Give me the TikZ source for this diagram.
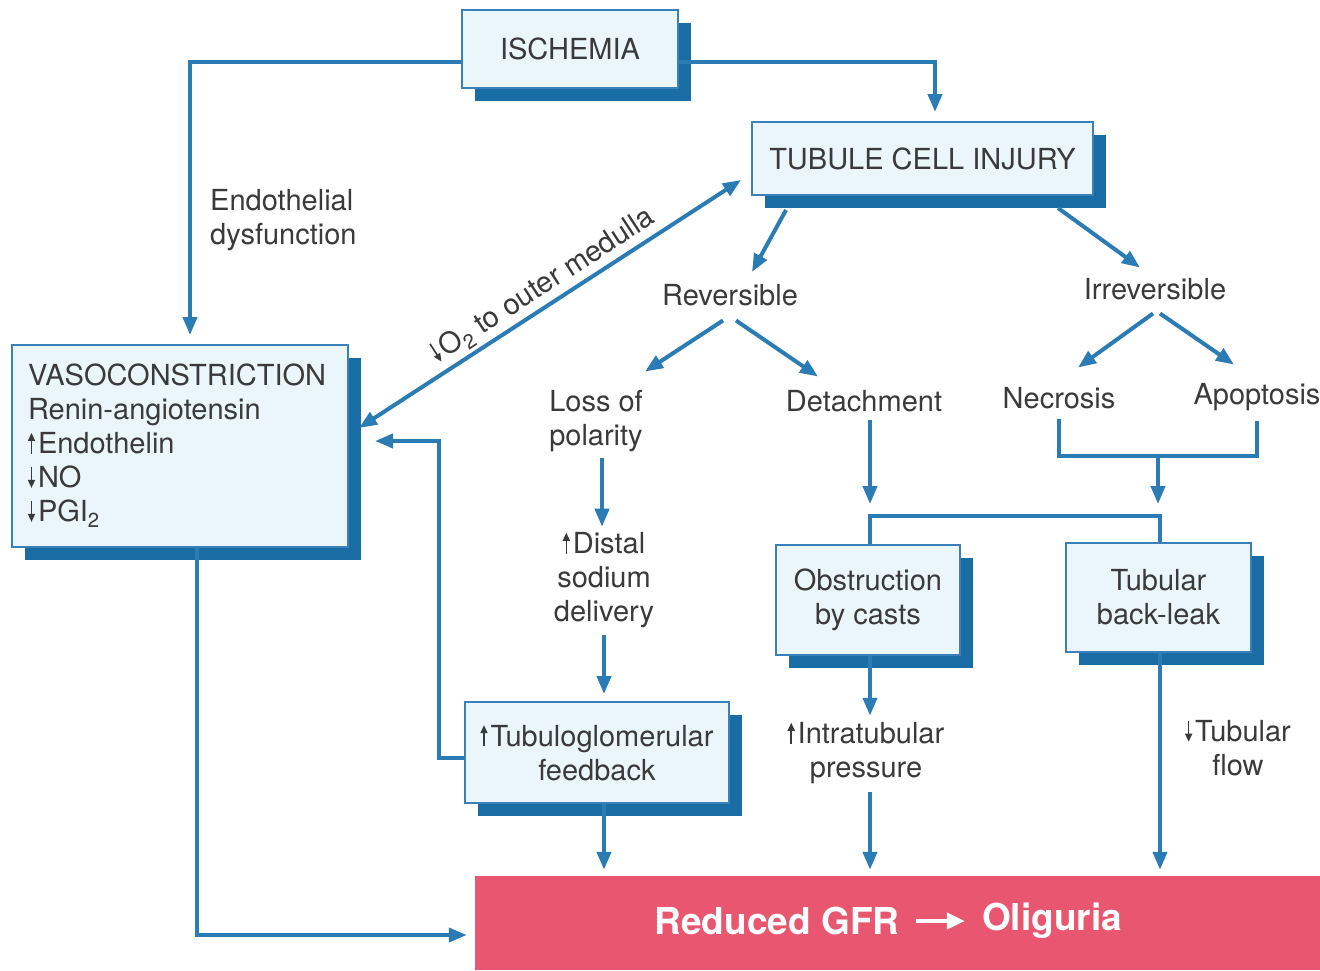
\documentclass[tikz,border=0pt]{standalone}
\usepackage{fontspec}
\setmainfont{TeX Gyre Heros}
\usetikzlibrary{arrows.meta,shadows}
\definecolor{linec}{HTML}{2B7BB5}
\definecolor{shadc}{HTML}{1A6CA5}
\definecolor{bordc}{HTML}{3A80BA}
\definecolor{boxf}{HTML}{EAF6FA}
\definecolor{txtc}{HTML}{3A3A3A}
\definecolor{redc}{HTML}{E8566F}
\newcommand\upa{\tikz[x=1pt,y=1pt,baseline=0pt]\draw[line width=1.6pt,-{Triangle[length=8pt,width=7pt]}] (0,0)--(0,21);\hspace{3pt}}
\newcommand\dna{\tikz[x=1pt,y=1pt,baseline=0pt]\draw[line width=1.6pt,-{Triangle[length=8pt,width=7pt]}] (0,21)--(0,0);\hspace{3pt}}
\begin{document}
\begin{tikzpicture}[x=1pt,y=-1pt,
  font=\fontsize{29}{34}\selectfont, text=txtc,
  box/.style={draw=bordc, line width=2pt, fill=boxf, inner sep=0pt, align=center,
    drop shadow={shadow xshift=13pt, shadow yshift=-13pt, fill=shadc, opacity=1}},
  lbl/.style={inner sep=2pt, align=center},
  conn/.style={draw=linec, line width=4pt},
  arr/.style={conn, -{Triangle[length=18pt,width=14pt]}},
  ]
\useasboundingbox (0,0) rectangle (1320,970);
\fill[white] (0,0) rectangle (1320,970);

% boxes
\node[fill=redc, minimum width=845pt, minimum height=94pt, inner sep=0pt] (red) at (897.5,923) {};
\node[box, minimum width=216pt, minimum height=78pt] (isch) at (570,49) {ISCHEMIA};
\node[box, minimum width=341pt, minimum height=73pt] (tci) at (922.5,158.5) {TUBULE CELL INJURY};
\node[box, minimum width=336pt, minimum height=202pt, text width=304pt, align=left] (vaso) at (180,446)
  {VASOCONSTRICTION\\Renin-angiotensin\\\upa Endothelin\\\dna NO\\\dna PGI\textsubscript{2}};
\node[box, minimum width=264pt, minimum height=101pt] (tgf) at (597,752.5) {\upa Tubuloglomerular\\feedback};
\node[box, minimum width=184pt, minimum height=110pt] (obs) at (868,600) {Obstruction\\by casts};
\node[box, minimum width=185pt, minimum height=109pt] (leak) at (1158.5,597.5) {Tubular\\back-leak};

% labels
\node[lbl, align=left, anchor=west] (endo) at (208,220) {Endothelial\\dysfunction};
\node[lbl] (rev) at (730,295) {Reversible};
\node[lbl] (irr) at (1155,289) {Irreversible};
\node[lbl] (loss) at (596,421) {Loss of\\polarity};
\node[lbl] (det) at (864,401) {Detachment};
\node[lbl] (nec) at (1059,398) {Necrosis};
\node[lbl] (apo) at (1257,397) {Apoptosis};
\node[lbl] (dist) at (604,580) {\upa Distal\\sodium\\delivery};
\node[lbl] (intra) at (866,753) {\upa Intratubular\\pressure};
\node[lbl] (tflow) at (1238,748) {\dna Tubular\\flow};
\node[lbl, rotate=33] (o2) at (543,286) {\dna O\textsubscript{2} to outer medulla};

\node[font=\fontsize{37}{40}\selectfont\bfseries, text=white, inner sep=2pt] (gfr) at (777,921) {Reduced GFR};
\node[font=\fontsize{37}{40}\selectfont\bfseries, text=white, inner sep=2pt] (olig) at (1052,921) {Oliguria};
\draw[white, line width=4pt, -{Triangle[length=18pt,width=16pt]}, shorten <=14pt, shorten >=15pt] (gfr) -- (olig);

% connectors
\draw[arr, shorten >=9pt] ([yshift=-13pt]isch.west) -| ([xshift=10pt]vaso.north);
\draw[arr, shorten >=9pt] ([yshift=-13pt]isch.east) -| ([xshift=12.5pt]tci.north);
\draw[conn, {Triangle[length=18pt,width=14pt]}-{Triangle[length=18pt,width=14pt]}]
  ([xshift=10pt,yshift=18pt]vaso.east) -- ([xshift=-10pt,yshift=-21.5pt]tci.west);
\draw[arr] ([yshift=-5pt]tgf.west) -- ++(-25,0) |- ([xshift=26pt,yshift=5pt]vaso.east);
\draw[arr, shorten >=8pt] ([xshift=17pt]vaso.south) |- ([yshift=-12pt]red.west);

\draw[arr] ([xshift=-136.5pt,yshift=-14pt]tci.south) -- ([xshift=22pt,yshift=10pt]rev.north);
\draw[arr] ([xshift=135.5pt,yshift=-12pt]tci.south) -- ([xshift=-15pt,yshift=8.5pt]irr.north);
\draw[arr] ([xshift=-7pt,yshift=-12.5pt]rev.south) -- ([xshift=49pt,yshift=16.5pt]loss.north);
\draw[arr] ([xshift=6pt,yshift=-12.5pt]rev.south) -- ([xshift=-46pt,yshift=11.5pt]det.north);
\draw[arr] ([xshift=-2pt,yshift=-11.5pt]irr.south) -- ([xshift=19pt,yshift=17.5pt]nec.north);
\draw[arr] ([xshift=5pt,yshift=-11.5pt]irr.south) -- ([xshift=-23pt,yshift=16.5pt]apo.north);

\draw[arr, shorten <=4pt, shorten >=3pt] ([xshift=6pt]loss.south) -- ([xshift=6pt]loss.south |- dist.north);
\draw[arr, shorten <=5pt, shorten >=7pt] (dist.south) -- (dist.south |- tgf.north);
\draw[arr, shorten <=6pt, shorten >=40pt] ([xshift=6pt]det.south) -- ([xshift=6pt]det.south |- obs.north);
\draw[conn] ([xshift=2pt]obs.north) -- ++(0,-28) -| ([xshift=1.5pt]leak.north);
\draw[conn] ([yshift=-8pt]nec.south) -- ++(0,37) -| ([yshift=-8pt]apo.south);
\coordinate (na) at (1158,455.5);
\draw[arr, shorten >=38pt] (na) -- (na |- leak.north);

\draw[arr, shorten >=4pt] ([xshift=2pt]obs.south) -- ([xshift=2pt]obs.south |- intra.north);
\draw[arr, shorten <=6pt, shorten >=6pt] ([xshift=4pt]intra.south) -- ([xshift=4pt]intra.south |- red.north);
\draw[arr, shorten >=6pt] ([xshift=1.5pt]leak.south) -- ([xshift=1.5pt]leak.south |- red.north);
\draw[arr, shorten >=6pt] ([xshift=7pt]tgf.south) -- ([xshift=7pt]tgf.south |- red.north);
\end{tikzpicture}
\end{document}
